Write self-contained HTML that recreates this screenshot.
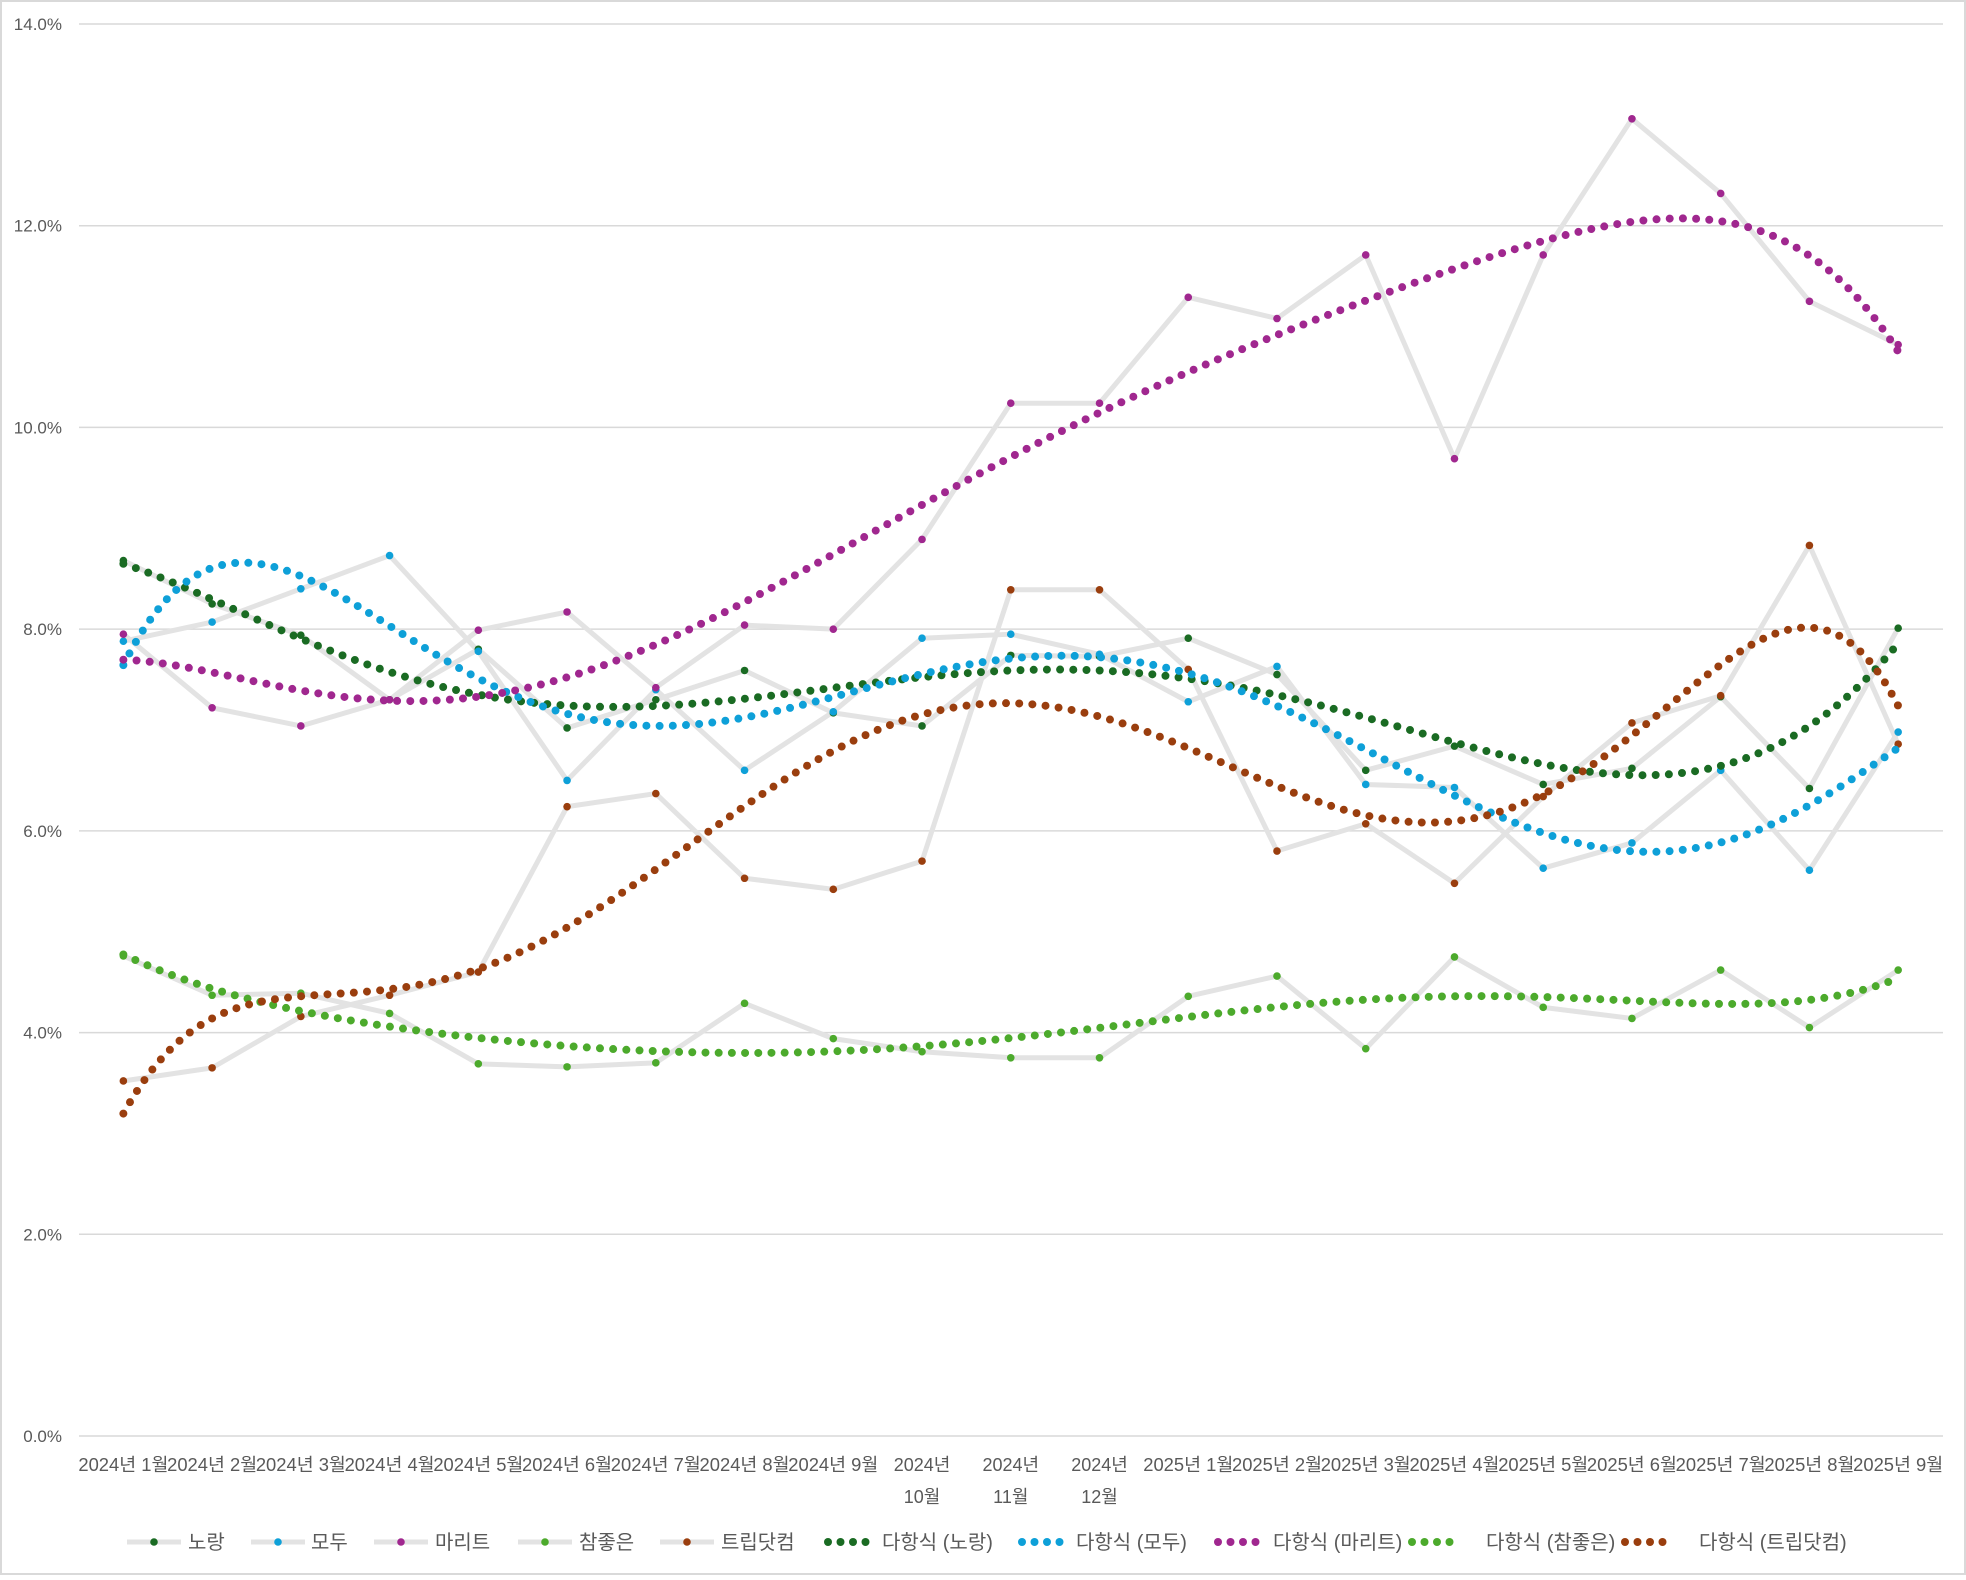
<!DOCTYPE html>
<html><head><meta charset="utf-8"><style>
html,body{margin:0;padding:0;background:#fff}
svg text{font-family:"Liberation Sans","Noto Sans CJK KR",sans-serif;fill:#595959}
</style></head><body>
<svg id="c" width="1966" height="1575" xmlns="http://www.w3.org/2000/svg">
<rect x="1" y="1" width="1964" height="1573" fill="#fff" stroke="#d9d9d9" stroke-width="2"/>
</svg>
<script>
const svg=document.getElementById('c');const NS='http://www.w3.org/2000/svg';
function el(t,a,txt){const e=document.createElementNS(NS,t);for(const k in a)e.setAttribute(k,a[k]);if(txt!==undefined)e.textContent=txt;svg.appendChild(e);return e;}
const x0=79,x1=1943,y0=1436,yTop=24;
const X=i=>x0+88.74*(i+0.5);const Y=v=>y0-(v/14)*(y0-yTop);
for(let p=0;p<=14;p+=2){el('line',{x1:x0,x2:x1,y1:Y(p),y2:Y(p),stroke:'#d9d9d9','stroke-width':1.5});
el('text',{x:62,y:Y(p)+6,'text-anchor':'end','font-size':17},p.toFixed(1)+'%');}
for(let i=0;i<21;i++){const y=2024+(i>=12?1:0),m=i%12+1;
if(m>=10&&y==2024){el('text',{x:X(i),y:1471,'text-anchor':'middle','font-size':18},y+'년');el('text',{x:X(i),y:1503,'text-anchor':'middle','font-size':18},m+'월');}
else el('text',{x:X(i),y:1471,'text-anchor':'middle','font-size':18,textLength:90,lengthAdjust:'spacingAndGlyphs'},y+'년 '+m+'월');}
const S=[
['노랑','#1a6b23',[8.68,8.25,7.94,7.3,7.80,7.02,7.3,7.59,7.17,7.04,7.74,7.73,7.91,7.55,6.6,6.84,6.46,6.62,7.33,6.42,8.01]],
['모두','#0ea0d8',[7.88,8.07,8.4,8.73,7.78,6.5,7.4,6.6,7.18,7.91,7.95,7.75,7.28,7.63,6.46,6.43,5.63,5.88,6.6,5.61,6.98]],
['마리트','#a0278f',[7.95,7.22,7.04,7.3,7.99,8.17,7.42,8.04,8.0,8.89,10.24,10.24,11.29,11.08,11.71,9.69,11.71,13.06,12.32,11.25,10.82]],
['참좋은','#4caa2c',[4.76,4.37,4.39,4.19,3.69,3.66,3.70,4.29,3.94,3.81,3.75,3.75,4.36,4.56,3.84,4.75,4.25,4.14,4.62,4.05,4.62]],
['트립닷컴','#9a3e0e',[3.52,3.65,4.16,4.37,4.60,6.24,6.37,5.53,5.42,5.70,8.39,8.39,7.6,5.80,6.07,5.48,6.34,7.07,7.34,8.83,6.86]]];
function fit(d,deg){const n=d.length,m=deg+1;const A=[],b=[];for(let r=0;r<m;r++){A.push(new Array(m).fill(0));b.push(0);}
for(let i=0;i<n;i++){const t=(i-10)/10;const pw=[];for(let k=0;k<m;k++)pw.push(Math.pow(t,k));for(let r=0;r<m;r++){b[r]+=pw[r]*d[i];for(let c=0;c<m;c++)A[r][c]+=pw[r]*pw[c];}}
for(let c=0;c<m;c++){let p=c;for(let r=c+1;r<m;r++)if(Math.abs(A[r][c])>Math.abs(A[p][c]))p=r;[A[c],A[p]]=[A[p],A[c]];[b[c],b[p]]=[b[p],b[c]];
for(let r=0;r<m;r++)if(r!=c){const f=A[r][c]/A[c][c];for(let k=c;k<m;k++)A[r][k]-=f*A[c][k];b[r]-=f*b[c];}}
const co=b.map((v,i)=>v/A[i][i]);return t=>co.reduce((s,c,k)=>s+c*Math.pow(t,k),0);}
S.forEach(s=>{el('polyline',{points:s[2].map((v,i)=>X(i)+','+Y(v)).join(' '),fill:'none',stroke:'#e3e3e3','stroke-width':5,'stroke-linejoin':'round'});});
S.forEach(s=>{s[2].forEach((v,i)=>el('circle',{cx:X(i),cy:Y(v),r:3.8,fill:s[1]}));});
S.forEach(s=>{const f=fit(s[2],6);let pts=[];for(let k=0;k<=400;k++){const i=k/20;pts.push(X(i)+','+Y(f((i-10)/10)));}
el('polyline',{points:pts.join(' '),fill:'none',stroke:s[1],'stroke-width':8,'stroke-linecap':'round','stroke-dasharray':'0 13.2'});});
const ly=1542;
const L=[[154,188],[278,311],[401,435],[545,579],[687,721]];
S.forEach((s,i)=>{const [c,t]=L[i];el('line',{x1:c-27,x2:c+27,y1:ly,y2:ly,stroke:'#e3e3e3','stroke-width':5});el('circle',{cx:c,cy:ly,r:3.8,fill:s[1]});
el('text',{x:t,y:ly+7,'font-size':20},s[0]);});
const T=[[828,882],[1022,1076],[1218,1273],[1412,1486],[1625,1699]];
S.forEach((s,i)=>{const [c,t]=T[i];for(let k=0;k<4;k++)el('circle',{cx:c+k*12.5,cy:ly,r:4,fill:s[1]});
el('text',{x:t,y:ly+7,'font-size':20},'다항식 ('+s[0]+')');});
</script>
</body></html>
